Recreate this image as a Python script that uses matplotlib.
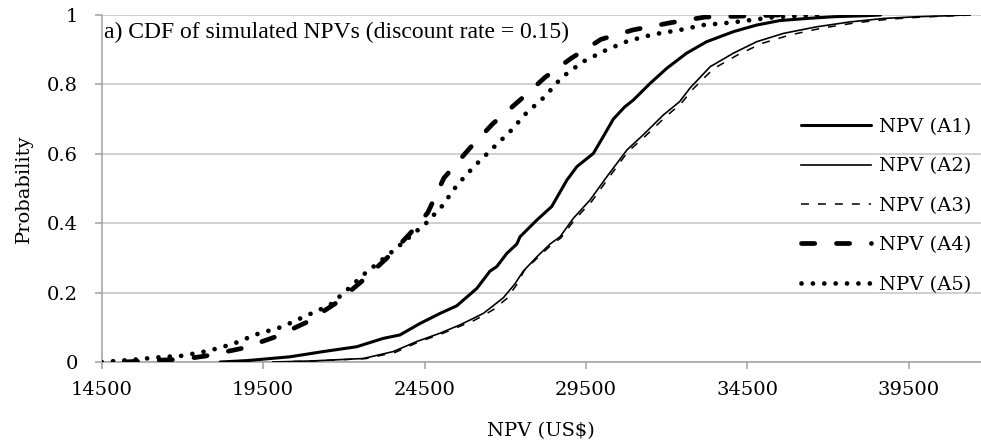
import matplotlib
matplotlib.use("Agg")
import matplotlib.pyplot as plt

# Simulated NPV CDFs (US$, cumulative probability)
npv_a1 = [18170, 19000, 20330, 21360, 22400, 23220, 23740, 24360, 24980, 25500,
          25910, 26120, 26530, 26740, 27050, 27360, 27460, 27980, 28440, 28910,
          29220, 29730, 30040, 30350, 30700, 30970, 31490, 32000, 32620, 33240,
          34070, 34790, 35510, 36340, 37160, 38200, 38630]
cdf_a1 = [0.0, 0.004, 0.015, 0.030, 0.044, 0.068, 0.078, 0.111, 0.140, 0.162,
          0.195, 0.212, 0.262, 0.275, 0.313, 0.340, 0.361, 0.409, 0.448, 0.524,
          0.563, 0.601, 0.650, 0.700, 0.735, 0.755, 0.803, 0.846, 0.890, 0.923,
          0.952, 0.971, 0.984, 0.990, 0.995, 0.998, 1.0]

npv_a2 = [19800, 21000, 22600, 23530, 24260, 24980, 25600, 25910, 26320, 26530,
          26940, 27300, 27560, 27980, 28390, 28700, 29110, 29630, 30150, 30770,
          31280, 31900, 32400, 32730, 33350, 34070, 34790, 35620, 36650, 37680,
          38710, 39750, 40780, 41200]
cdf_a2 = [0.0, 0.003, 0.010, 0.030, 0.059, 0.083, 0.107, 0.121, 0.140, 0.155,
          0.185, 0.225, 0.262, 0.303, 0.340, 0.361, 0.414, 0.467, 0.534, 0.611,
          0.655, 0.712, 0.750, 0.790, 0.851, 0.890, 0.923, 0.947, 0.966, 0.980,
          0.990, 0.995, 0.998, 1.0]

npv_a3 = [19900, 21100, 22700, 23600, 24300, 25050, 25650, 26000, 26400, 26650,
          27050, 27350, 27600, 28000, 28420, 28730, 29150, 29680, 30200, 30800,
          31330, 31950, 32450, 32800, 33450, 34200, 34950, 35800, 36850, 37900,
          38900, 39900, 40900, 41500]
cdf_a3 = [0.0, 0.003, 0.010, 0.028, 0.057, 0.082, 0.105, 0.118, 0.138, 0.152,
          0.183, 0.222, 0.265, 0.300, 0.337, 0.358, 0.410, 0.463, 0.530, 0.606,
          0.650, 0.705, 0.745, 0.785, 0.845, 0.885, 0.918, 0.942, 0.963, 0.978,
          0.988, 0.994, 0.998, 1.0]

npv_a4 = [15200, 16000, 17000, 17700, 18880, 19870, 20860, 21760, 22600, 23340,
          24050, 24600, 25100, 25910, 26620, 27460, 28230, 29040, 29970, 30960,
          32140, 33190, 34400, 35500]
cdf_a4 = [0.0, 0.004, 0.008, 0.017, 0.040, 0.072, 0.115, 0.170, 0.236, 0.300,
          0.370, 0.430, 0.530, 0.617, 0.687, 0.755, 0.820, 0.875, 0.930, 0.957,
          0.978, 0.994, 0.997, 1.0]

npv_a5 = [14500, 15400, 16200, 17000, 17800, 18570, 19300, 20080, 20830, 21570,
          22130, 22710, 23020, 23590, 24200, 24550, 25050, 25510, 26030, 26580,
          27150, 27650, 28230, 28750, 29400, 30150, 30800, 31580, 32420, 33130,
          33970, 34830, 35260, 36130, 36700]
cdf_a5 = [0.0, 0.006, 0.013, 0.018, 0.032, 0.052, 0.080, 0.101, 0.133, 0.164,
          0.210, 0.260, 0.282, 0.325, 0.373, 0.400, 0.450, 0.510, 0.563, 0.613,
          0.664, 0.717, 0.765, 0.820, 0.865, 0.900, 0.925, 0.944, 0.957, 0.971,
          0.978, 0.988, 0.993, 0.998, 1.0]

series_labels = ["NPV (A1)", "NPV (A2)", "NPV (A3)", "NPV (A4)", "NPV (A5)"]
x_ticks = [14500, 19500, 24500, 29500, 34500, 39500]
y_ticks = [0, 0.2, 0.4, 0.6, 0.8, 1.0]
y_tick_labels = ["0", "0.2", "0.4", "0.6", "0.8", "1"]
panel_title = "a) CDF of simulated NPVs (discount rate = 0.15)"

W, H = 981, 448
fig = plt.figure(figsize=(W / 100, H / 100), dpi=100)
left, right, top, bottom = 101.7, 981, 15, 362
ax = fig.add_axes([left / W, 1 - bottom / H, (right - left) / W, (bottom - top) / H])

serif = "DejaVu Serif"
k = "black"
ax.plot(npv_a1, cdf_a1, color=k, lw=2.2, solid_capstyle="round", label=series_labels[0], zorder=4)
ax.plot(npv_a2, cdf_a2, color=k, lw=1.2, label=series_labels[1], zorder=4)
ax.plot(npv_a3, cdf_a3, color=k, lw=1.1, linestyle=(0, (5.2, 5.9)), label=series_labels[2], zorder=4)
ax.plot(npv_a4, cdf_a4, color=k, lw=3.4, linestyle=(0, (2.8, 4.6)), dash_capstyle="round",
        label=series_labels[3], zorder=4)
ax.plot(npv_a5, cdf_a5, color=k, lw=3.4, linestyle=(0, (0.01, 2.4)), dash_capstyle="round",
        label=series_labels[4], zorder=4)

ax.set_xlim(14500, 14500 + (right - left) * 5000 / 161.4)
ax.set_ylim(0, 1)
ax.set_xticks(x_ticks)
ax.set_xticklabels([str(v) for v in x_ticks], fontfamily=serif, fontsize=14)
ax.set_yticks(y_ticks)
ax.set_yticklabels(y_tick_labels, fontfamily=serif, fontsize=14)

ax.grid(axis="y", color="#C4C4C4", lw=1.1, zorder=0)
ax.set_axisbelow(True)
for s in ("top", "right"):
    ax.spines[s].set_visible(False)
for s in ("left", "bottom"):
    ax.spines[s].set_color("#A0A0A0")
    ax.spines[s].set_linewidth(1.1)
ax.tick_params(axis="both", direction="out", length=5, width=1.1, color="#A0A0A0")
ax.tick_params(axis="x", pad=9)
ax.tick_params(axis="y", pad=12)

ax.set_xlabel("NPV (US$)", fontfamily=serif, fontsize=14, labelpad=16)
ax.set_ylabel("Probability", fontfamily=serif, fontsize=14, labelpad=10)

ax.text(0.003, 0.934, panel_title, transform=ax.transAxes, fontfamily="Liberation Serif",
        fontsize=17, va="baseline", ha="left")

leg = ax.legend(loc="center right", bbox_to_anchor=(1.0, 0.45), frameon=False,
                prop={"family": serif, "size": 14}, handlelength=3.6, handletextpad=0.4,
                labelspacing=1.1, borderaxespad=0.1)

fig.savefig("out.png", dpi=100)
